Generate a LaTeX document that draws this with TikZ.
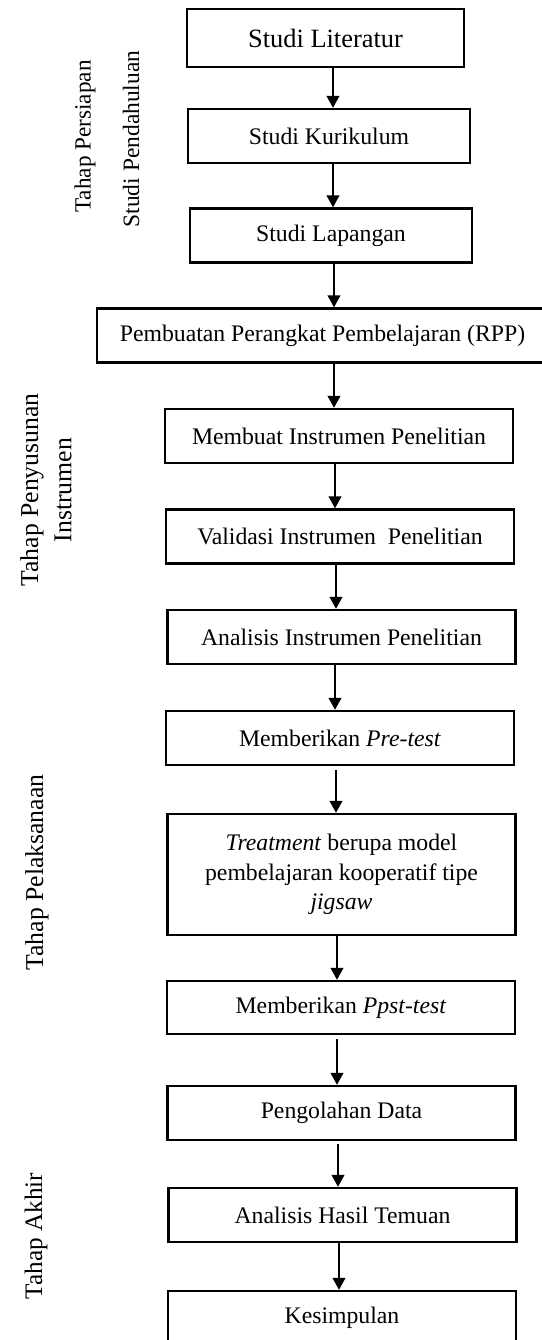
\documentclass[tikz,border=0pt]{standalone}
\usepackage{fontspec}
\setmainfont{Liberation Serif}
\usetikzlibrary{arrows.meta}

\begin{document}
\begin{tikzpicture}
  [x=0.75pt,y=-0.75pt,
   every node/.style={font=\fontsize{17.8}{22}\selectfont},
   kotak/.style={draw,line width=1.8pt,inner sep=0pt,align=center,
     minimum width=261pt,minimum height=40.5pt},
   tahap/.style={rotate=90,inner sep=0pt,align=center,
     font=\fontsize{19.3}{25}\selectfont},
   panah/.style={line width=1.5pt,-{Triangle[width=9.5pt,length=9pt]}}]
  \useasboundingbox (0,0) rectangle (542,1340);
  \clip (0,0) rectangle (542,1340);

  % tahap persiapan
  \node (lit)[kotak,minimum width=207.75pt,minimum height=43.5pt,
    font=\fontsize{19.8}{22}\selectfont] at (325.5,38) {Studi Literatur};
  \node (kur)[kotak,minimum width=211.5pt] at (329,136) {Studi Kurikulum};
  \node (lap)[kotak,minimum width=211.5pt] at (331,235.5) {Studi Lapangan};
  \node (rpp)[kotak,minimum width=338.25pt] at (322.5,335.5)
    {Pembuatan Perangkat Pembelajaran (RPP)};

  % tahap penyusunan instrumen
  \node (mbt)[kotak] at (339,436) {Membuat Instrumen Penelitian};
  \node (val)[kotak] at (340,536.5) {Validasi Instrumen\ \ Penelitian};
  \node (ani)[kotak] at (341.5,637) {Analisis Instrumen Penelitian};

  % tahap pelaksanaan
  \node (pre)[kotak] at (340,738) {Memberikan \textit{Pre-test}};
  \node (trt)[kotak,minimum height=90.75pt] at (341.5,874.5)
    {\textit{Treatment} berupa model\\pembelajaran kooperatif tipe\\\textit{jigsaw}};
  \node (pst)[kotak,minimum height=39.75pt] at (341,1007.5)
    {Memberikan \textit{Ppst-test}};

  % tahap akhir
  \node (peng)[kotak] at (341.5,1113) {Pengolahan Data};
  \node (hsl)[kotak] at (342.5,1215) {Analisis Hasil Temuan};
  \node (kes)[kotak] at (342,1318) {Kesimpulan};

  % label tahap
  \node (l1)[tahap,font=\fontsize{17.4}{22}\selectfont] at (85,136.5) {Tahap Persiapan};
  \node (l2)[tahap,font=\fontsize{17.6}{22}\selectfont] at (131,139) {Studi Pendahuluan};
  \node (l3)[tahap] at (46,490) {Tahap Penyusunan\\Instrumen};
  \node (l4)[tahap] at (37,872.5) {Tahap Pelaksanaan};
  \node (l5)[tahap,font=\fontsize{18.9}{25}\selectfont] at (36,1236) {Tahap Akhir};

  \foreach \from/\to/\ax/\gap in {lit/kur/333/0,kur/lap/333/0,lap/rpp/334/0,
      rpp/mbt/334/0,mbt/val/335/0,val/ani/336/0,ani/pre/335/0,pre/trt/336/3,
      trt/pst/337/0,pst/peng/337/3,peng/hsl/338/2,hsl/kes/339/0}
  {
    \coordinate (ax) at (\ax,0);
    \draw[panah,shorten <=\gap pt] (\from.south -| ax) -- (\to.north -| ax);
  }

\end{tikzpicture}
\end{document}
